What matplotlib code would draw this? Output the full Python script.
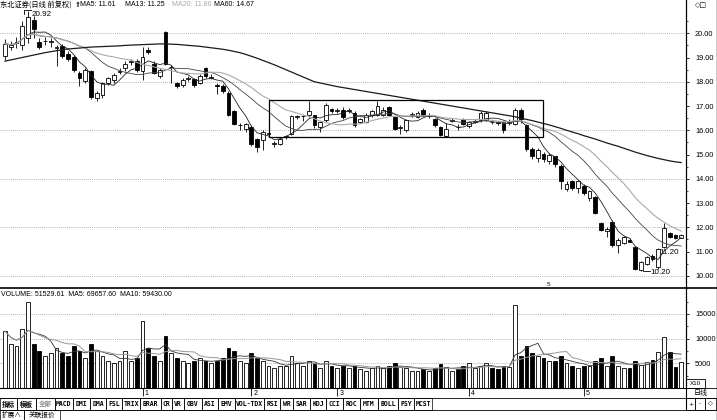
import numpy as np
import pandas as pd
import matplotlib
matplotlib.use('Agg')
import matplotlib.pyplot as plt
from matplotlib.patches import Rectangle
import matplotlib.transforms as mtransforms

plt.rcParams['font.family'] = ['Liberation Sans', 'Noto Sans CJK SC', 'DejaVu Sans']

# daily candles (price, forward adjusted)
opens = [19.07, 19.45, 19.6, 19.5, 19.8, 20.56, 19.64, 19.66, 19.62, 19.4,
         19.48, 19.15, 19.03, 18.35, 18.02, 18.43, 17.34, 17.46, 17.94, 18.06,
         18.4, 18.55, 18.8, 18.87, 18.43, 19.3, 18.75, 18.23, 20.04, 18.6,
         17.94, 17.86, 18.13, 18.1, 17.94, 18.55, 18.17, 17.86, 17.82, 17.54,
         16.8, 16.2, 16.05, 16.13, 15.64, 15.6, 15.85, 15.45, 15.44, 15.72,
         15.85, 16.55, 16.57, 16.61, 16.61, 16.13, 16.41, 16.86, 16.78, 16.85,
         16.8, 16.73, 16.33, 16.33, 16.61, 16.65, 16.65, 16.94, 16.53, 16.1,
         16.01, 16.63, 16.53, 16.85, 16.6, 16.45, 16.13, 15.78, 16.4, 16.15,
         16.45, 16.17, 16.36, 16.41, 16.41, 16.35, 16.35, 16.33, 16.3, 16.25,
         16.85, 16.21, 15.24, 14.84, 15.04, 14.72, 14.92, 14.52, 13.59, 13.91,
         13.63, 13.71, 13.19, 13.23, 12.18, 11.85, 12.22, 11.29, 11.37, 11.49,
         11.21, 10.24, 10.48, 10.81, 10.36, 11.21, 11.77, 11.69, 11.58]
closes = [19.56, 19.5, 19.65, 20.3, 20.65, 20.16, 19.44, 19.7, 19.66, 19.44,
          19.07, 18.95, 18.47, 18.15, 18.47, 17.38, 17.54, 17.94, 18.15, 18.27,
          18.45, 18.75, 18.84, 18.47, 19.03, 19.22, 18.35, 18.47, 18.75, 18.62,
          17.82, 18.06, 18.17, 17.86, 18.23, 18.23, 18.2, 17.84, 17.62, 16.65,
          16.25, 16.22, 16.25, 15.44, 15.32, 15.93, 15.88, 15.47, 15.65, 15.75,
          16.6, 16.58, 16.6, 16.81, 16.21, 16.33, 17.06, 16.8, 16.84, 16.53,
          16.82, 16.21, 16.45, 16.65, 16.81, 17.02, 16.85, 16.65, 16.05, 16.12,
          16.41, 16.66, 16.73, 16.65, 16.62, 16.21, 15.81, 16.05, 16.43, 16.13,
          16.25, 16.33, 16.38, 16.73, 16.73, 16.33, 16.28, 16.01, 16.33, 16.85,
          16.45, 15.24, 14.92, 15.2, 14.8, 15.0, 14.6, 13.91, 13.79, 13.63,
          13.91, 13.43, 13.51, 12.58, 11.9, 11.95, 11.29, 11.49, 11.61, 11.41,
          10.28, 10.56, 10.77, 10.69, 11.09, 11.97, 11.61, 11.57, 11.68]
highs = [19.75, 19.7, 19.85, 20.5, 20.92, 20.7, 19.8, 19.85, 19.8, 19.5,
         19.55, 19.25, 19.1, 18.45, 18.55, 18.5, 17.6, 18.0, 18.2, 18.35,
         18.55, 18.85, 18.95, 18.95, 19.44, 19.44, 18.85, 18.55, 20.1, 18.68,
         18.0, 18.15, 18.25, 18.15, 18.3, 18.62, 18.3, 17.95, 17.9, 17.6,
         16.85, 16.3, 16.3, 16.2, 15.7, 16.0, 15.95, 15.55, 15.7, 15.8,
         16.65, 16.62, 16.65, 17.22, 16.65, 16.38, 17.12, 16.9, 16.9, 16.95,
         16.9, 16.78, 16.5, 16.72, 16.85, 17.22, 16.95, 17.0, 16.6, 16.2,
         16.45, 16.75, 16.8, 16.9, 16.7, 16.5, 16.18, 16.3, 16.5, 16.25,
         16.5, 16.38, 16.45, 16.8, 16.78, 16.4, 16.4, 16.4, 16.45, 16.9,
         16.9, 16.25, 15.3, 15.25, 15.1, 15.05, 14.95, 14.6, 13.9, 13.95,
         13.95, 13.8, 13.55, 13.3, 12.22, 12.0, 12.3, 11.55, 11.65, 11.55,
         11.25, 10.6, 10.8, 10.9, 11.15, 12.18, 11.8, 11.72, 11.72]
lows = [18.9, 19.3, 19.4, 19.3, 19.6, 19.8, 19.35, 19.5, 19.45, 18.67,
        19.0, 18.85, 18.4, 17.82, 17.95, 17.3, 17.2, 17.35, 17.85, 17.95,
        18.3, 18.45, 18.7, 18.4, 18.06, 19.15, 18.3, 18.15, 18.7, 17.94,
        17.75, 17.8, 18.05, 17.78, 17.9, 18.15, 18.1, 17.5, 17.55, 16.6,
        16.2, 16.0, 15.95, 15.35, 15.1, 15.2, 15.8, 15.3, 15.4, 15.65,
        15.8, 16.45, 16.4, 16.55, 16.1, 15.95, 16.35, 16.72, 16.72, 16.45,
        16.7, 16.15, 16.28, 16.28, 16.55, 16.6, 16.6, 16.6, 16.0, 15.85,
        15.95, 16.55, 16.5, 16.6, 16.5, 16.15, 15.75, 15.72, 16.35, 16.0,
        16.2, 16.1, 16.3, 16.35, 16.38, 16.25, 16.22, 15.9, 16.2, 16.2,
        16.3, 15.15, 14.8, 14.7, 14.7, 14.6, 14.5, 13.6, 13.5, 13.55,
        13.4, 13.35, 13.1, 12.55, 11.85, 11.6, 11.2, 10.95, 11.3, 11.38,
        10.25, 10.2, 10.45, 10.6, 10.3, 11.15, 11.55, 11.5, 11.55]

# 60 day average (needs history before the window)
ma60 = [18.85, 18.9, 18.95, 19.0, 19.05, 19.1, 19.15, 19.2, 19.24, 19.28,
        19.32, 19.35, 19.37, 19.39, 19.41, 19.43, 19.44, 19.45, 19.46, 19.47,
        19.48, 19.5, 19.51, 19.52, 19.53, 19.54, 19.55, 19.56, 19.56, 19.55,
        19.54, 19.52, 19.5, 19.48, 19.46, 19.43, 19.4, 19.37, 19.34, 19.3,
        19.25, 19.2, 19.13, 19.05, 18.97, 18.88, 18.79, 18.7, 18.6, 18.5,
        18.4, 18.3, 18.2, 18.1, 18.0, 17.95, 17.9, 17.85, 17.8, 17.76,
        17.72, 17.68, 17.64, 17.6, 17.56, 17.52, 17.48, 17.44, 17.4, 17.36,
        17.32, 17.28, 17.24, 17.2, 17.16, 17.12, 17.08, 17.04, 17.0, 16.96,
        16.92, 16.88, 16.84, 16.8, 16.76, 16.72, 16.68, 16.64, 16.6, 16.56,
        16.5, 16.45, 16.4, 16.34, 16.28, 16.22, 16.15, 16.08, 16.0, 15.93,
        15.86, 15.78, 15.71, 15.64, 15.56, 15.48, 15.41, 15.34, 15.26, 15.18,
        15.1, 15.03, 14.96, 14.9, 14.84, 14.79, 14.74, 14.7, 14.67]

# volume shown in units of x10
volumes = [11500, 9000, 8500, 12000, 17400, 9000, 7500, 6500, 7000, 8000,
           7000, 6500, 8500, 7500, 6000, 9000, 7500, 6500, 5500, 5000,
           5500, 7500, 5500, 6000, 13500, 8000, 6500, 5500, 10500, 7000,
           6000, 5500, 5000, 5500, 6000, 5500, 5000, 5500, 6000, 8000,
           7500, 5500, 5000, 7000, 6000, 5500, 4500, 4000, 4500, 4500,
           6500, 5000, 4500, 5500, 5000, 4000, 5500, 4500, 4000, 4500,
           4000, 4500, 3800, 3500, 4000, 4500, 4000, 4500, 5000, 4200,
           4000, 3500, 3500, 3800, 3500, 4000, 4800, 4200, 3500, 3800,
           4500, 5000, 4000, 4500, 5000, 4000, 3800, 4500, 4200, 16800,
           6500, 8500, 7000, 6500, 6000, 5500, 5500, 6500, 5000, 4500,
           4000, 4500, 4500, 5500, 6000, 4500, 6500, 4500, 4000, 4050,
           5500, 4650, 5250, 5650, 7270, 10300, 7270, 4240, 5250]

month_starts = [24, 43, 58, 81, 101]
month_labels = ['1', '2', '3', '4', '5']

# consolidation box drawn on the chart
box_left, box_right = 46.1, 93.9
box_low, box_high = 15.73, 17.26

tabs = ['指标', '模板', '全部', 'MACD', 'DMI', 'DMA', 'FSL', 'TRIX', 'BRAR', 'CR', 'VR',
        'OBV', 'ASI', 'EMV', 'VOL-TDX', 'RSI', 'WR', 'SAR', 'KDJ', 'CCI', 'ROC', 'MTM',
        'BOLL', 'PSY', 'MCST']
tab_edges = [0, 17, 36, 55, 73, 90, 106, 122, 140, 161, 172, 184, 202, 218, 235, 264,
             280, 293, 310, 326, 343, 360, 378, 398, 414, 432]

W, H = 717, 420
fig = plt.figure(figsize=(W / 100, H / 100), dpi=100)
ax = fig.add_axes([0, (H - 288) / H, 686 / W, 288 / H])
axv = fig.add_axes([0, (H - 388) / H, 686 / W, 100 / H])

idx = np.arange(len(closes))
o = np.array(opens)
c = np.array(closes)
h = np.array(highs)
l = np.array(lows)
up = c >= o
fill = np.where(up, 'white', 'black')
xlim = (-0.87, 118.85)

# --- price panel ---
for g in range(10, 21, 2):
    ax.axhline(g, color='#999999', lw=0.6, ls=(0, (1, 1.5)), zorder=1)
ax.vlines(idx, l, h, color='black', lw=0.6, zorder=2)
ax.bar(idx, np.maximum(np.abs(c - o), 0.015), bottom=np.minimum(o, c), width=0.66,
       color=fill, edgecolor='black', linewidth=0.6, zorder=3)

s = pd.Series(closes)
ax.plot(idx, s.rolling(5, min_periods=1).mean(), color='#222222', lw=0.6, zorder=4)
ax.plot(idx, s.rolling(13, min_periods=1).mean(), color='#444444', lw=0.6, zorder=4)
ax.plot(idx, s.rolling(20, min_periods=1).mean(), color='#aaaaaa', lw=0.8, zorder=4)
ax.plot(idx, ma60, color='#1a1a1a', lw=0.9, zorder=4)

ax.add_patch(Rectangle((box_left, box_low), box_right - box_left, box_high - box_low,
                       fill=False, ec='black', lw=0.9, zorder=5))

hi = int(np.argmax(h))
lo = int(np.argmin(l))
ax.plot([hi - 0.7, hi - 0.7, hi + 0.6], [h[hi] - 0.12, h[hi] + 0.05, h[hi] + 0.05], color='black', lw=0.6)
ax.text(hi + 0.7, h[hi] - 0.15, f'{h[hi]:.2f}', fontsize=5.8, va='center', ha='left')
ax.plot([lo + 0.3, lo + 1.6], [l[lo], l[lo]], color='black', lw=0.6)
ax.text(lo + 1.6, l[lo] - 0.05, f'{l[lo]:.2f}', fontsize=5.8, va='center', ha='left')
ax.text(114.2, 10.97, '11.20', fontsize=5.8, va='center', ha='left', zorder=2.5)

ax.set_xlim(*xlim)
ax.set_ylim(9.76, 21.37)
ax.set_xticks([])
ax.yaxis.tick_right()
ax.set_yticks(np.arange(10, 21))
ax.set_yticklabels([f'{v:.2f}' for v in np.arange(10, 21)], fontsize=5.3)
ax.set_yticks(np.arange(9.5, 21.5, 1), minor=True)
ax.tick_params(axis='y', which='major', length=2.5, width=0.6, pad=4)
ax.tick_params(axis='y', which='minor', length=1.5, width=0.5)
for sp in ['top', 'left', 'bottom']:
    ax.spines[sp].set_visible(False)
ax.spines['right'].set_linewidth(0.8)

# --- volume panel ---
for g in [5000, 10000, 15000]:
    axv.axhline(g, color='#999999', lw=0.6, ls=(0, (1, 1.5)), zorder=1)
axv.bar(idx, volumes, width=0.66, color=fill, edgecolor='black', linewidth=0.6, zorder=2)
vs = pd.Series(volumes)
axv.plot(idx, vs.rolling(5, min_periods=1).mean(), color='#333333', lw=0.6, zorder=3)
axv.plot(idx, vs.rolling(10, min_periods=1).mean(), color='#999999', lw=0.7, zorder=3)
axv.set_xlim(*xlim)
axv.set_ylim(0, 20240)
axv.yaxis.tick_right()
axv.set_yticks([5000, 10000, 15000])
axv.set_yticklabels(['5000', '10000', '15000'], fontsize=5.3)
axv.set_yticks([2500, 7500, 12500, 17500], minor=True)
axv.tick_params(axis='y', which='major', length=2.5, width=0.6, pad=4)
axv.tick_params(axis='y', which='minor', length=1.5, width=0.5)
axv.set_xticks(month_starts)
axv.set_xticklabels([])
axv.tick_params(axis='x', length=6, width=0.6, direction='out')
trans = mtransforms.blended_transform_factory(axv.transData, axv.transAxes)
for m, lab in zip(month_starts, month_labels):
    axv.text(m + 0.35, -0.02, lab, transform=trans, fontsize=5, va='top', ha='left')
for sp in ['top', 'left']:
    axv.spines[sp].set_visible(False)
axv.spines['right'].set_linewidth(0.8)
axv.spines['bottom'].set_linewidth(0.8)

# --- frame, headers and tab bar (pixel coords) ---
ov = fig.add_axes([0, 0, 1, 1], zorder=10)
ov.set_xlim(0, W)
ov.set_ylim(H, 0)
ov.axis('off')
ov.patch.set_visible(False)

ov.plot([0, W], [288, 288], color='black', lw=1.2)
ov.plot([686, 686], [0, 410], color='black', lw=0.8)
ov.plot([716.5, 716.5], [0, H], color='black', lw=1.0)
ov.plot([0, W], [398, 398], color='black', lw=0.6)
ov.plot([0, W], [410, 410], color='black', lw=0.6)
ov.plot([686, W], [388, 388], color='black', lw=0.6)

ov.text(0, 5, '东北证券(日线 前复权)', fontsize=5.2, va='center', family=['Noto Sans CJK SC'])
ov.text(75, 5, '⇑', fontsize=5, va='center', family=['DejaVu Sans'], fontweight='bold')
ov.text(80, 5, 'MA5: 11.61', fontsize=5, va='center')
ov.text(125, 5, 'MA13: 11.25', fontsize=5, va='center')
ov.text(172, 5, 'MA20: 11.86', fontsize=5, va='center', color='#aaaaaa')
ov.text(214, 5, 'MA60: 14.67', fontsize=5, va='center')
ov.text(701, 5, '◇□', fontsize=5, va='center', ha='center', family=['DejaVu Sans'])
ov.text(1, 295, 'VOLUME: 51529.61  MA5: 69657.60  MA10: 59430.00', fontsize=5, va='center')
ov.text(548, 285, '5', fontsize=4.5, va='center', ha='center')

ov.add_patch(Rectangle((686, 379), 19, 9, fill=False, ec='black', lw=0.6))
ov.text(695.5, 383.5, 'X10', fontsize=4.5, va='center', ha='center')
ov.text(701, 393, '日线', fontsize=5, va='center', ha='center', family=['Noto Sans CJK SC'])

mono = ['DejaVu Sans Mono', 'Noto Sans CJK SC']
for i, lab in enumerate(tabs):
    x0, x1 = tab_edges[i], tab_edges[i + 1]
    ov.add_patch(Rectangle((x0, 398), x1 - x0, 12, fill=False, ec='black', lw=0.5))
    col = '#888888' if lab == '全部' else 'black'
    ov.text((x0 + x1) / 2, 404, lab, fontsize=4.7, va='center', ha='center', family=mono,
            fontweight='bold', color=col)
for (x0, x1), lab in zip([(686, 695), (695, 705), (705, 716)], ['+', '-', '◇']):
    ov.add_patch(Rectangle((x0, 398), x1 - x0, 12, fill=False, ec='black', lw=0.5))
    ov.text((x0 + x1) / 2, 404, lab, fontsize=4.5, va='center', ha='center', family=['DejaVu Sans'])
ov.add_patch(Rectangle((0, 410), 24, 9.5, fill=False, ec='black', lw=0.5))
ov.text(12, 414.5, '扩展∧', fontsize=4.8, va='center', ha='center', family=['Noto Sans CJK SC', 'DejaVu Sans'])
ov.add_patch(Rectangle((24, 410), 36, 9.5, fill=False, ec='black', lw=0.5))
ov.text(42, 414.5, '关联报价', fontsize=4.8, va='center', ha='center', family=['Noto Sans CJK SC'])

fig.savefig('out.png', dpi=100)
